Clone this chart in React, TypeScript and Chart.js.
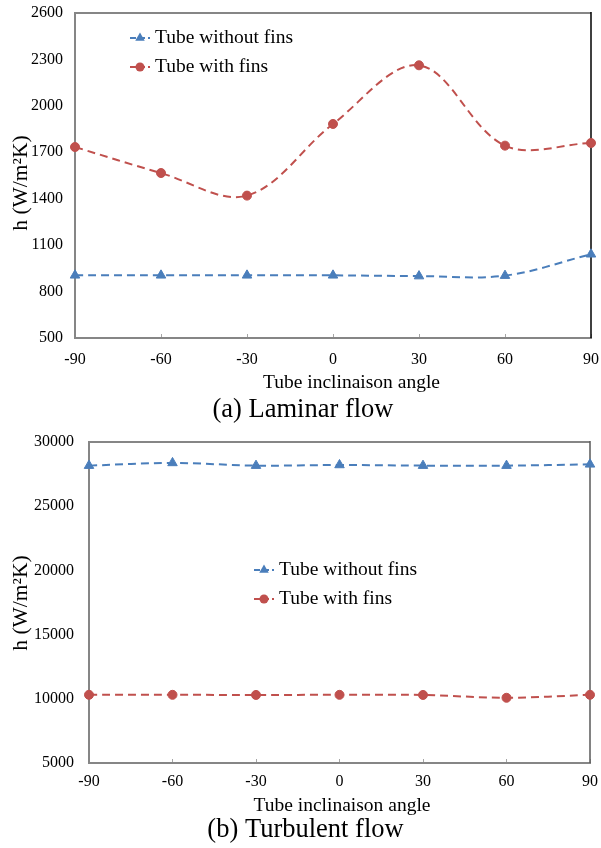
import React, { useEffect, useRef } from "react";
import { Chart, registerables } from "chart.js";

Chart.register(...registerables);

// ---------- data ----------
const angleLabels = ["-90", "-60", "-30", "0", "30", "60", "90"];
const seriesNames = ["Tube without fins", "Tube with fins"];

const laminarWithoutFins = [905, 905, 905, 905, 900, 903, 1041];
const laminarWithFins = [1734, 1566, 1420, 1883, 2262, 1743, 1760];

const turbulentWithoutFins = [28160, 28370, 28160, 28210, 28160, 28160, 28260];
const turbulentWithFins = [10310, 10310, 10300, 10310, 10300, 10080, 10310];

const laminarAxis = [500, 2600, 300]; // min, max, step
const turbulentAxis = [5000, 30000, 5000];

const xAxisTitle = "Tube inclinaison angle";
const yAxisTitle = "h (W/m\u00B2K)";
const captions = ["(a) Laminar flow", "(b) Turbulent flow"];

// ---------- style ----------
const FONT = "'Liberation Serif', 'Times New Roman', serif";
const BLUE = "#4A7EBB";
const RED = "#C0504D";
const AXIS = "#868686";

const framePlugin = {
  id: "frame",
  beforeDatasetsDraw(chart: any, _args: any, opts: any) {
    const { ctx, chartArea } = chart;
    ctx.save();
    ctx.lineWidth = 2;
    ctx.strokeStyle = AXIS;
    ctx.beginPath();
    ctx.moveTo(chartArea.left, chartArea.top);
    ctx.lineTo(chartArea.right, chartArea.top);
    ctx.stroke();
    ctx.lineWidth = 1.5;
    ctx.strokeStyle = opts.rightColor || "#000";
    ctx.beginPath();
    ctx.moveTo(chartArea.right, chartArea.top - 1);
    ctx.lineTo(chartArea.right, chartArea.bottom);
    ctx.stroke();
    ctx.restore();
  },
};

const textsPlugin = {
  id: "texts",
  afterDraw(chart: any, _args: any, opts: any) {
    const { ctx } = chart;
    ctx.save();
    ctx.fillStyle = "#000";
    ctx.textAlign = "center";
    ctx.textBaseline = "middle";
    // x axis title
    ctx.font = `19.5px ${FONT}`;
    ctx.fillText(xAxisTitle, opts.xTitleX, opts.xTitleY);
    // caption
    ctx.font = `26.5px ${FONT}`;
    ctx.fillText(opts.caption, opts.captionX, opts.captionY);
    // y axis title (rotated)
    ctx.translate(opts.yTitleX, opts.yTitleY);
    ctx.rotate(-Math.PI / 2);
    ctx.textBaseline = "alphabetic";
    ctx.font = `21.5px ${FONT}`;
    ctx.fillText(yAxisTitle, 0, 0);
    ctx.restore();
  },
};

const inlineLegendPlugin = {
  id: "inlineLegend",
  afterDraw(chart: any, _args: any, opts: any) {
    const { ctx } = chart;
    ctx.save();
    chart.data.datasets.forEach((ds: any, i: number) => {
      const y = opts.y + i * opts.gap;
      const x0 = opts.x;
      ctx.strokeStyle = ds.borderColor;
      ctx.lineWidth = 2;
      ctx.setLineDash([6, 3]);
      ctx.beginPath();
      ctx.moveTo(x0, y);
      ctx.lineTo(x0 + 20, y);
      ctx.stroke();
      ctx.setLineDash([]);
      ctx.fillStyle = ds.borderColor;
      const cx = x0 + 10;
      if (ds.pointStyle === "triangle") {
        const r = 5.5;
        ctx.beginPath();
        ctx.moveTo(cx, y - r);
        ctx.lineTo(cx + r * 0.866, y + r * 0.5);
        ctx.lineTo(cx - r * 0.866, y + r * 0.5);
        ctx.closePath();
        ctx.fill();
      } else {
        ctx.beginPath();
        ctx.arc(cx, y, 4.5, 0, Math.PI * 2);
        ctx.fill();
      }
      ctx.fillStyle = "#000";
      ctx.font = `19.5px ${FONT}`;
      ctx.textBaseline = "middle";
      ctx.textAlign = "left";
      ctx.fillText(ds.label, x0 + 25, y);
    });
    ctx.restore();
  },
};

type PanelProps = {
  width: number;
  height: number;
  without: number[];
  withFins: number[];
  axis: number[];
  caption: string;
  padTop: number;
  padRight: number;
  yWidth: number;
  yTickPad: number;
  xHeight: number;
  xTickPad: number;
  legendX: number;
  legendY: number;
  legendGap: number;
  rightColor: string;
  xTitleX: number;
  xTitleY: number;
  captionX: number;
  captionY: number;
  yTitleX: number;
  yTitleY: number;
};

function Panel(p: PanelProps) {
  const ref = useRef<HTMLCanvasElement | null>(null);
  useEffect(() => {
    if (!ref.current) return;
    const chart = new Chart(ref.current, {
      type: "line",
      data: {
        labels: angleLabels,
        datasets: [
          {
            label: seriesNames[0],
            data: p.without,
            borderColor: BLUE,
            backgroundColor: BLUE,
            borderWidth: 2,
            borderDash: [8, 5],
            pointStyle: "triangle",
            pointRadius: 5.5,
            pointBorderWidth: 1,
            pointBackgroundColor: BLUE,
            pointBorderColor: BLUE,
            tension: 0.35,
            fill: false,
          },
          {
            label: seriesNames[1],
            data: p.withFins,
            borderColor: RED,
            backgroundColor: RED,
            borderWidth: 2,
            borderDash: [8, 5],
            pointStyle: "circle",
            pointRadius: 4.5,
            pointBorderWidth: 1,
            pointBackgroundColor: RED,
            pointBorderColor: RED,
            tension: 0.35,
            fill: false,
          },
        ],
      },
      options: {
        animation: false,
        responsive: false,
        maintainAspectRatio: false,
        layout: { padding: { top: p.padTop, left: 0, right: p.padRight, bottom: 0 } },
        plugins: {
          legend: { display: false },
          tooltip: { enabled: false },
          title: { display: false },
          frame: { rightColor: p.rightColor },
          inlineLegend: { x: p.legendX, y: p.legendY, gap: p.legendGap },
          texts: {
            caption: p.caption,
            xTitleX: p.xTitleX,
            xTitleY: p.xTitleY,
            captionX: p.captionX,
            captionY: p.captionY,
            yTitleX: p.yTitleX,
            yTitleY: p.yTitleY,
          },
        } as any,
        scales: {
          x: {
            type: "category",
            offset: false,
            grid: {
              drawOnChartArea: false,
              drawTicks: true,
              tickLength: -4,
              color: "#A6A6A6",
              tickColor: "#A6A6A6",
            },
            border: { color: AXIS, width: 2 },
            ticks: {
              color: "#000",
              padding: p.xTickPad,
              maxRotation: 0,
              autoSkip: false,
              font: { family: FONT, size: 16, lineHeight: 1.2 },
            },
            title: { display: false },
            afterFit: (s: any) => {
              s.height = p.xHeight;
              s.paddingLeft = 0;
              s.paddingRight = 0;
            },
          },
          y: {
            min: p.axis[0],
            max: p.axis[1],
            grid: { drawOnChartArea: false, drawTicks: false },
            border: { color: AXIS, width: 2 },
            ticks: {
              stepSize: p.axis[2],
              color: "#000",
              padding: p.yTickPad,
              callback: (v: any) => String(v),
              font: { family: FONT, size: 16, lineHeight: 1.2 },
            },
            title: { display: false },
            afterFit: (s: any) => {
              s.width = p.yWidth;
              s.paddingTop = 0;
              s.paddingBottom = 0;
            },
          },
        },
      } as any,
      plugins: [framePlugin, inlineLegendPlugin, textsPlugin],
    });
    return () => chart.destroy();
  }, []);
  return (
    <canvas
      ref={ref}
      width={p.width}
      height={p.height}
      style={{ display: "block", width: p.width, height: p.height }}
    />
  );
}

export default function App() {
  return (
    <div style={{ position: "absolute", left: 0, top: 0, width: 601, height: 848, background: "#fff" }}>
      <Panel
        width={601}
        height={425}
        without={laminarWithoutFins}
        withFins={laminarWithFins}
        axis={laminarAxis}
        caption={captions[0]}
        padTop={13}
        padRight={10}
        yWidth={75}
        yTickPad={12}
        xHeight={87}
        xTickPad={16.4}
        legendX={130}
        legendY={38}
        legendGap={29}
        rightColor="#000"
        xTitleX={351.5}
        xTitleY={383}
        captionX={303}
        captionY={410}
        yTitleX={26.5}
        yTitleY={183}
      />
      <Panel
        width={601}
        height={423}
        without={turbulentWithoutFins}
        withFins={turbulentWithFins}
        axis={turbulentAxis}
        caption={captions[1]}
        padTop={17}
        padRight={11}
        yWidth={89}
        yTickPad={15}
        xHeight={85}
        xTickPad={13.4}
        legendX={254}
        legendY={145}
        legendGap={29}
        rightColor="#595959"
        xTitleX={342}
        xTitleY={381}
        captionX={305.5}
        captionY={405}
        yTitleX={26.5}
        yTitleY={178}
      />
    </div>
  );
}
